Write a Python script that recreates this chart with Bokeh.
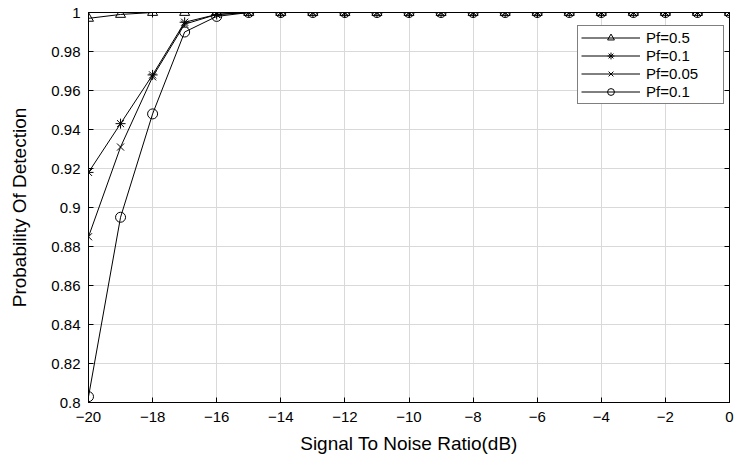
from bokeh.plotting import figure
from bokeh.models import (Range1d, FixedTicker, LinearAxis, Legend, LegendItem,
                          NumeralTickFormatter)
from bokeh.embed import file_html
from bokeh.resources import INLINE

snr = [-20, -19, -18, -17, -16, -15, -14, -13, -12, -11, -10,
       -9, -8, -7, -6, -5, -4, -3, -2, -1, 0]
pd_05 = [0.997, 0.999, 1, 1, 1, 1, 1, 1, 1, 1, 1, 1, 1, 1, 1, 1, 1, 1, 1, 1, 1]
pd_01 = [0.918, 0.943, 0.968, 0.995, 0.999, 1, 1, 1, 1, 1, 1, 1, 1, 1, 1, 1, 1, 1, 1, 1, 1]
pd_005 = [0.885, 0.931, 0.967, 0.994, 0.999, 1, 1, 1, 1, 1, 1, 1, 1, 1, 1, 1, 1, 1, 1, 1, 1]
pd_01b = [0.803, 0.895, 0.948, 0.990, 0.998, 1, 1, 1, 1, 1, 1, 1, 1, 1, 1, 1, 1, 1, 1, 1, 1]

labels = ["Pf=0.5", "Pf=0.1", "Pf=0.05", "Pf=0.1"]
markers = ["triangle", "asterisk", "x", "circle"]
series = [pd_05, pd_01, pd_005, pd_01b]

x_ticks = [-20, -18, -16, -14, -12, -10, -8, -6, -4, -2, 0]
y_ticks = [0.8, 0.82, 0.84, 0.86, 0.88, 0.9, 0.92, 0.94, 0.96, 0.98, 1.0]

FONT = "Liberation Sans"

p = figure(width=734, height=457, output_backend="svg", toolbar_location=None,
           x_range=Range1d(-20, 0), y_range=Range1d(0.8, 1.0),
           min_border_left=88, min_border_right=5, min_border_top=12,
           min_border_bottom=55, background_fill_color="white",
           border_fill_color="white")

p.outline_line_color = "black"
p.outline_line_width = 1

for ax in (p.xaxis[0], p.yaxis[0]):
    ax.major_tick_in = 5
    ax.major_tick_out = 0
    ax.minor_tick_in = 0
    ax.minor_tick_out = 0
    ax.axis_line_color = "black"
    ax.major_tick_line_color = "black"
    ax.major_label_text_font = FONT
    ax.major_label_text_font_size = "15px"
    ax.major_label_text_color = "black"
    ax.axis_label_text_font = FONT
    ax.axis_label_text_font_size = "19px"
    ax.axis_label_text_font_style = "normal"
    ax.axis_label_text_color = "black"

p.xaxis.ticker = FixedTicker(ticks=x_ticks)
p.yaxis.ticker = FixedTicker(ticks=y_ticks)
p.yaxis.formatter = NumeralTickFormatter(format="0.[00]")
p.xaxis.axis_label = "Signal To Noise Ratio(dB)"
p.yaxis.axis_label = "Probability Of Detection"
p.xaxis.major_label_standoff = 9
p.yaxis.major_label_standoff = 8
p.xaxis.axis_label_standoff = 8
p.yaxis.axis_label_standoff = 18

# box ticks on top and right (no labels)
blank_x = {t: "" for t in x_ticks}
blank_y = {t: "" for t in y_ticks}
top_ax = LinearAxis(ticker=FixedTicker(ticks=x_ticks), major_label_overrides=blank_x,
                    major_label_text_font_size="1px",
                    major_tick_in=5, major_tick_out=0, minor_tick_in=0, minor_tick_out=0,
                    axis_line_color="black", major_label_standoff=0)
right_ax = LinearAxis(ticker=FixedTicker(ticks=y_ticks), major_label_overrides=blank_y,
                      major_label_text_font_size="1px",
                      major_tick_in=5, major_tick_out=0, minor_tick_in=0, minor_tick_out=0,
                      axis_line_color="black", major_label_standoff=0)
p.add_layout(top_ax, "above")
p.add_layout(right_ax, "right")

p.xgrid.ticker = FixedTicker(ticks=x_ticks)
p.ygrid.ticker = FixedTicker(ticks=y_ticks)
p.grid.grid_line_color = "#d9d9d9"
p.grid.grid_line_width = 1

items = []
for ys, lab, mk in zip(series, labels, markers):
    ln = p.line(snr, ys, line_color="black", line_width=1)
    sc = p.scatter(snr, ys, marker=mk, size=10, line_color="black",
                   fill_color=None, line_width=1)
    items.append(LegendItem(label=lab, renderers=[ln, sc]))

legend = Legend(items=items, location=(489, 298), glyph_width=59, glyph_height=17,
                spacing=1, padding=3, margin=0, label_standoff=6, label_width=74,
                label_height=17,
                label_text_font=FONT, label_text_font_size="15px",
                label_text_color="black", border_line_color="black",
                border_line_width=1, background_fill_alpha=1.0,
                background_fill_color="white")
p.add_layout(legend, "center")

open("out.html", "w").write(file_html(p, INLINE))
